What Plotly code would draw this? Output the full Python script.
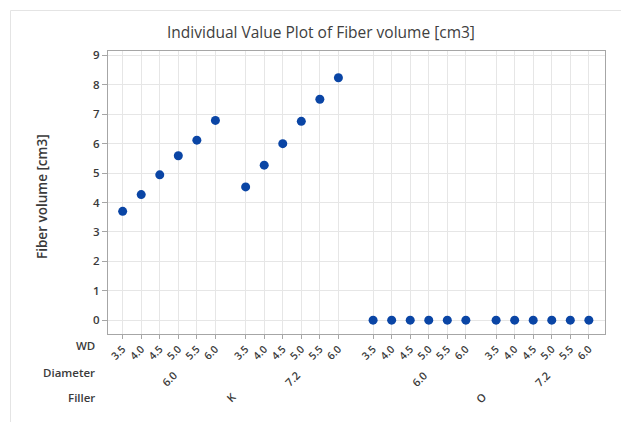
import plotly.graph_objects as go
import numpy as np

# ---- data ----
fillers = ["K", "O"]
diameters = ["6.0", "7.2"]
wd_levels = ["3.5", "4.0", "4.5", "5.0", "5.5", "6.0"]
fiber_K_60 = [3.70, 4.27, 4.94, 5.59, 6.12, 6.79]
fiber_K_72 = [4.53, 5.27, 6.00, 6.76, 7.51, 8.24]
fiber_O_60 = [0, 0, 0, 0, 0, 0]
fiber_O_72 = [0, 0, 0, 0, 0, 0]
values = {("K", "6.0"): fiber_K_60, ("K", "7.2"): fiber_K_72,
          ("O", "6.0"): fiber_O_60, ("O", "7.2"): fiber_O_72}

# ---- layout of categorical positions ----
DIAM_GAP = 1.63
FILL_GAP = 1.87
xs, ys, tickvals, ticktext = [], [], [], []
diam_centers, fill_centers = [], []
pos = 0.0
for fi, f in enumerate(fillers):
    if fi > 0:
        pos += FILL_GAP - 1
    f_start = pos
    for di, d in enumerate(diameters):
        if di > 0:
            pos += DIAM_GAP - 1
        d_start = pos
        for wi, w in enumerate(wd_levels):
            xs.append(pos)
            ys.append(values[(f, d)][wi])
            tickvals.append(pos)
            ticktext.append(w)
            pos += 1
        diam_centers.append(((d_start + pos - 1) / 2, d))
    fill_centers.append(((f_start + pos - 1) / 2, f))

W, H = 621, 422
ML, MR, MT, MB = 108, 16, 51, 88
PH = H - MT - MB
PW = W - ML - MR


def py(p):  # pixel y -> paper
    return (H - MB - p) / PH


def px(p):  # pixel x -> paper
    return (p - ML) / PW


FONT = "Open Sans"
TXT = "#3a3a3a"

fig = go.Figure()
fig.add_trace(go.Scatter(x=xs, y=ys, mode="markers",
                         marker=dict(color="#0a45a5", size=9),
                         hoverinfo="skip", showlegend=False))

annotations = []
for c, d in diam_centers:
    annotations.append(dict(x=c, y=py(378), xref="x", yref="paper", text=d,
                            showarrow=False, textangle=-45,
                            font=dict(family=FONT, size=11, color=TXT, weight=600),
                            xanchor="center", yanchor="middle"))
for c, f in fill_centers:
    annotations.append(dict(x=c, y=py(397), xref="x", yref="paper", text=f,
                            showarrow=False, textangle=-45,
                            font=dict(family=FONT, size=11, color=TXT, weight=600),
                            xanchor="center", yanchor="middle"))
for lab, yy in [("WD", 345), ("Diameter", 372.5), ("Filler", 397.5)]:
    annotations.append(dict(x=px(97), y=py(yy), xref="paper", yref="paper", text=lab,
                            showarrow=False,
                            font=dict(family=FONT, size=11.5, color=TXT, weight=600),
                            xanchor="right", yanchor="middle"))
annotations.append(dict(x=px(42), y=py(197), xref="paper", yref="paper",
                        text="Fiber volume [cm3]", showarrow=False, textangle=-90,
                        font=dict(family=FONT, size=13.5, color=TXT, weight=600),
                        xanchor="center", yanchor="middle"))

fig.update_layout(
    width=W, height=H,
    margin=dict(l=ML, r=MR, t=MT, b=MB),
    paper_bgcolor="white", plot_bgcolor="white",
    title=dict(text="Individual Value Plot of Fiber volume [cm3]",
               x=321 / W, xanchor="center", y=1 - 33 / H, yanchor="middle",
               xref="container", yref="container",
               font=dict(family=FONT, size=15.5, color="#404040")),
    annotations=annotations,
    shapes=[dict(type="line", xref="paper", yref="paper",
                 x0=px(10.5), x1=px(640), y0=py(10.5), y1=py(10.5),
                 line=dict(color="#e4e4e4", width=1)),
            dict(type="line", xref="paper", yref="paper",
                 x0=px(10.5), x1=px(10.5), y0=py(10.5), y1=py(440),
                 line=dict(color="#e4e4e4", width=1))],
    xaxis=dict(range=[-0.79, 26.0], tickvals=tickvals, ticktext=ticktext,
               tickangle=-45, showgrid=True, gridcolor="#e6e6e6", gridwidth=1,
               zeroline=False, showline=True, linecolor="#a6a6a6", linewidth=1,
               mirror=True, ticks="outside", ticklen=4, tickcolor="#a6a6a6",
               tickfont=dict(family=FONT, size=10.5, color=TXT, weight=600)),
    yaxis=dict(range=[-0.47, 9.15], tickvals=list(range(0, 10)),
               showgrid=True, gridcolor="#e6e6e6", gridwidth=1,
               zeroline=False, showline=True, linecolor="#a6a6a6", linewidth=1,
               mirror=True, ticks="outside", ticklen=5, tickcolor="#a6a6a6",
               tickfont=dict(family=FONT, size=11.5, color=TXT, weight=600)),
)

fig.write_html("out.html")
